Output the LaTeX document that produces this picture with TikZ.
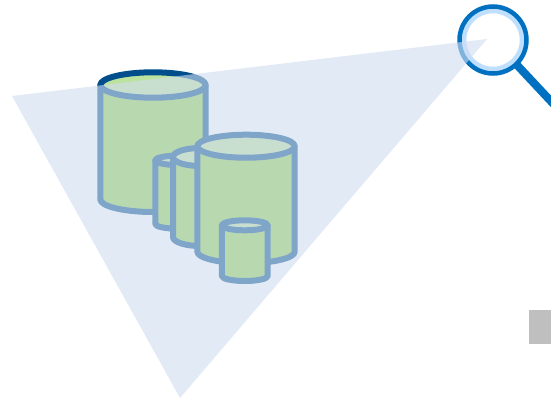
\documentclass[tikz,border=0pt]{standalone}
\definecolor{tankline}{RGB}{0,79,140}
\definecolor{tankbody}{RGB}{147,209,75}
\definecolor{tanktop}{RGB}{188,227,157}
\definecolor{viewcone}{RGB}{208,221,241}
\definecolor{lensdark}{RGB}{0,112,192}
\definecolor{lenslight}{RGB}{191,223,255}
\newcommand{\tank}[5]{%
	\draw[tankedge, fill=tankbody] (#1-#3, #2) -- (#1-#3, #2+#5) arc[start angle=180, end angle=0, x radius=#3, y radius=#4] -- (#1+#3, #2) -- cycle;
	\draw[tankedge, fill=tanktop] (#1, #2) ellipse[x radius=#3, y radius=#4];
}
\begin{document}
\begin{tikzpicture}[x=1pt, y=-1pt,
	tankedge/.style = {draw=tankline, line width=6pt, line join=round}]
	\useasboundingbox (0, 0) rectangle (551, 399);

	% Tanks, back to front
	\tank{153}{85}{52.7}{12.7}{114.3}
	\tank{178}{160.3}{22.7}{4.7}{63.7}
	\tank{200}{157}{27}{9}{80}
	\tank{246}{146.2}{48.7}{11.5}{105.5}
	\tank{244.8}{225.3}{22.9}{5}{50.7}

	% Magnifier
	\draw[lensdark, line width=8pt] (517, 65) -- (560, 111);
	\node[circle, draw=lenslight, line width=5.5pt, fill=white, minimum size=59pt, inner sep=0pt] (lens) at (493, 40) {};
	\node[circle, draw=lensdark, line width=4.5pt, minimum size=67pt, inner sep=0pt] (rim) at (493, 40) {};

	% View cone
	\fill[viewcone, fill opacity=0.61] (12, 96) -- (487, 39) -- (180, 398) -- cycle;

	\fill[black!25] (529, 310) rectangle (551, 344);
\end{tikzpicture}
\end{document}
